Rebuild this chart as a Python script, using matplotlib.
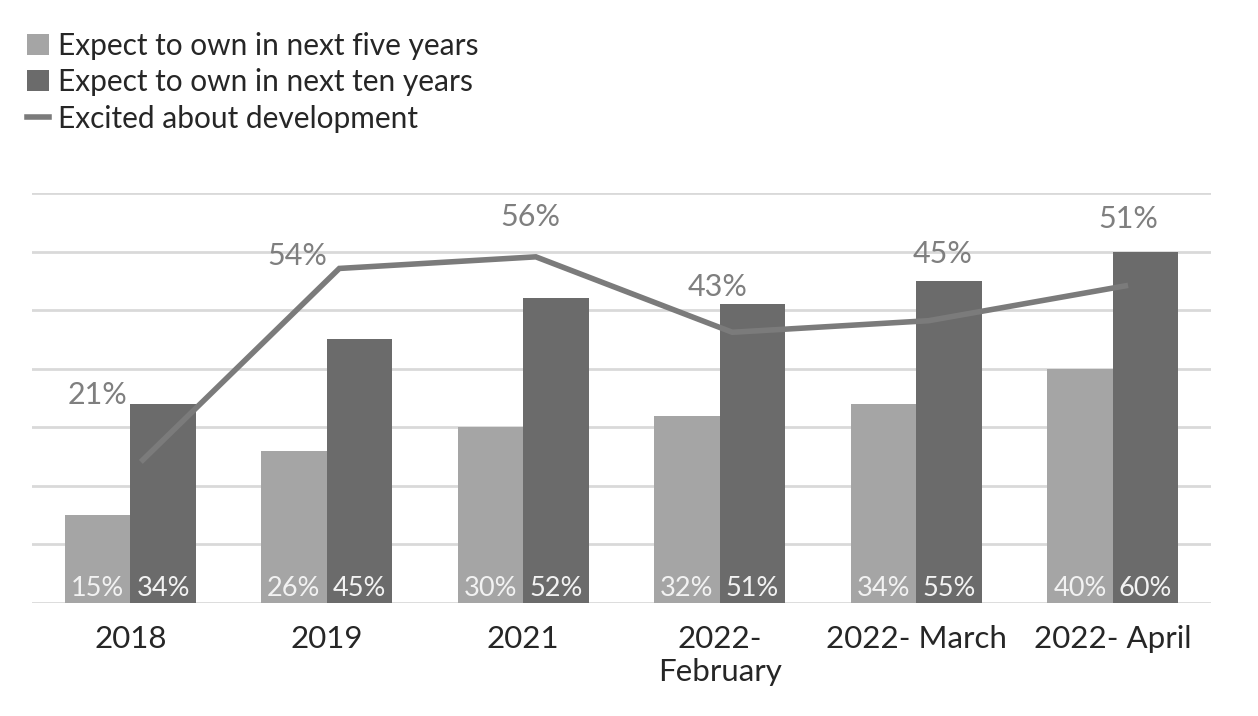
import numpy as np
import matplotlib as mpl
mpl.use("Agg")
import matplotlib.pyplot as plt
from matplotlib.patches import Patch
from matplotlib.lines import Line2D

plt.rcParams["font.family"] = ["Lato", "DejaVu Sans"]

# Data.
categories = ["2018", "2019", "2021", "2022-\nFebruary", "2022- March", "2022- April"]
five_years = [15, 26, 30, 32, 34, 40]
ten_years = [34, 45, 52, 51, 55, 60]
excited = [21, 54, 56, 43, 45, 51]

series_names = ["Expect to own in next five years",
                "Expect to own in next ten years",
                "Excited about development"]

# Colours.
light = "#a5a5a5"
dark = "#6b6b6b"
line_col = "#7b7b7b"
grid_col = "#d9d9d9"

fig = plt.figure(figsize=(12.58, 7.16), dpi=100)
rect = [32/1258, 1 - 603/716, (1211 - 32)/1258, (603 - 193)/716]
ax = fig.add_axes(rect)

x = np.arange(len(categories))
w = 0.334
ax.bar(x - w/2, five_years, width=w, color=light, zorder=2)
ax.bar(x + w/2, ten_years, width=w, color=dark, zorder=2)

ax.set_xlim(-0.5, len(categories) - 0.5)
ax.set_ylim(0, 70)
ax.set_yticks(np.arange(0, 71, 10))
ax.yaxis.grid(True, color=grid_col, linewidth=2)
ax.set_axisbelow(True)
ax.tick_params(axis="y", left=False, labelleft=False)
ax.tick_params(axis="x", length=0, pad=16, labelsize=22.5, labelcolor="#262626")
ax.set_xticks(x)
ax.set_xticklabels(categories, linespacing=1.22)
for s in ax.spines.values():
  s.set_visible(False)

# Bar labels inside the bars, near the base.
for xi, v in zip(x, five_years):
  ax.annotate(f"{v}%", (xi - w/2, 0), xytext=(0, 15), textcoords="offset pixels",
              ha="center", va="center", fontsize=19.5, color="#f2f2f2", zorder=3)
for xi, v in zip(x, ten_years):
  ax.annotate(f"{v}%", (xi + w/2, 0), xytext=(0, 15), textcoords="offset pixels",
              ha="center", va="center", fontsize=19.5, color="#f2f2f2", zorder=3)

# Line on its own (secondary) axes, slightly shifted as in the original.
ax2 = fig.add_axes(rect, frameon=False)
ax2.set_xlim(-0.5 - 0.064, len(categories) - 0.5 - 0.064)
ax2.set_ylim(-3.65, 67.0)
ax2.axis("off")
ax2.plot(x, excited, color=line_col, linewidth=4, solid_joinstyle="miter", zorder=4)

label_offsets = [(-45, 65), (-42, 12), (-5, 40), (-15, 45), (14, 67), (3, 67)]
for xi, v, off in zip(x, excited, label_offsets):
  ax2.annotate(f"{v}%", (xi, v), xytext=off, textcoords="offset pixels",
               ha="center", va="center", fontsize=22, color="#7f7f7f")

# Legend at the top left.
handles = [Patch(facecolor=light, edgecolor="none"),
           Patch(facecolor=dark, edgecolor="none"),
           Line2D([0], [0], color=line_col, linewidth=4)]
fig.legend(handles, series_names, loc="upper left", bbox_to_anchor=(0.012, 0.972),
           frameon=False, fontsize=21.5, handlelength=0.72, handleheight=0.7,
           handletextpad=0.32, labelspacing=0.28, borderaxespad=0,
           labelcolor="#262626")

fig.savefig("out.png", dpi=100)
